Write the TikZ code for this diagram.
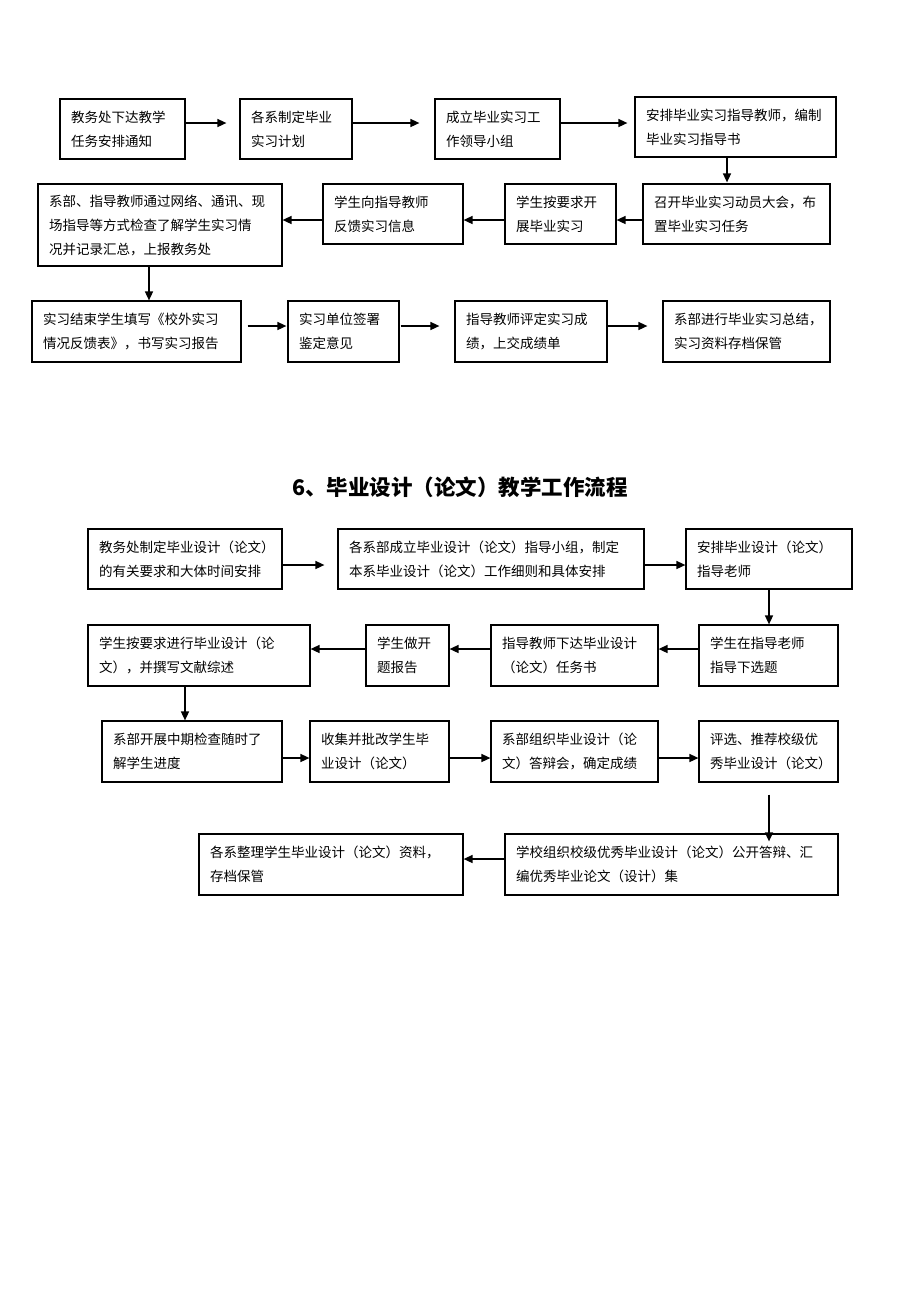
\documentclass[tikz,border=0pt]{standalone}
\usepackage{fontspec}
\setmainfont{Noto Sans CJK SC}
\usetikzlibrary{arrows.meta,calc}
\tikzset{
  box/.style={draw=black, line width=1.2pt, inner xsep=11pt, inner ysep=0pt, align=left,
    font=\fontsize{13.5}{24}\selectfont},
  arr/.style={line width=1.5pt, -{Triangle[length=9pt,width=8pt]}},
  ttl/.style={font=\fontsize{21.5}{26}\selectfont\bfseries}
}
\newcommand\bx[6]{%
  \pgfmathsetmacro\tw{#4-22}%
  \node[box, minimum width=#4pt, minimum height=#5pt, text width=\tw pt] (#1) at ({#2+#4/2},{#3+#5/2}) {#6};}
\begin{document}
\begin{tikzpicture}[x=1pt,y=-1pt]
\useasboundingbox (0,0) rectangle (920,1302);
\fill[white] (0,0) rectangle (920,1302);
% section 1
\bx{a1}{60}{99}{125}{60}{教务处下达教学\\任务安排通知}
\bx{a2}{240}{99}{112}{60}{各系制定毕业\\实习计划}
\bx{a3}{435}{99}{125}{60}{成立毕业实习工\\作领导小组}
\bx{a4}{635}{97}{201}{60}{安排毕业实习指导教师，编制\\毕业实习指导书}
\bx{b1}{38}{184}{244}{82}{系部、指导教师通过网络、通讯、现\\场指导等方式检查了解学生实习情\\况并记录汇总，上报教务处}
\bx{b2}{323}{184}{140}{60}{学生向指导教师\\反馈实习信息}
\bx{b3}{505}{184}{111}{60}{学生按要求开\\展毕业实习}
\bx{b4}{643}{184}{187}{60}{召开毕业实习动员大会，布\\置毕业实习任务}
\bx{c1}{32}{301}{209}{61}{实习结束学生填写《校外实习\\情况反馈表》，书写实习报告}
\bx{c2}{288}{301}{111}{61}{实习单位签署\\鉴定意见}
\bx{c3}{455}{301}{152}{61}{指导教师评定实习成\\绩，上交成绩单}
\bx{c4}{663}{301}{167}{61}{系部进行毕业实习总结，\\实习资料存档保管}

\draw[arr, shorten >=13pt] ([yshift=6pt]a1.east) -- ([yshift=6pt]a2.west);
\draw[arr, shorten >=15pt] ([yshift=6pt]a2.east) -- ([yshift=6pt]a3.west);
\draw[arr, shorten >=7pt] ([yshift=6pt]a3.east) -- ([yshift=6pt]a3.east -| a4.west);
\draw[arr, shorten >=1pt] ([xshift=-8.5pt]a4.south) -- ([xshift=-8.5pt]a4.south |- b4.north);
\draw[arr] ([yshift=-6pt]b4.west) -- ([yshift=-6pt]b3.east);
\draw[arr] ([yshift=-6pt]b3.west) -- ([yshift=-6pt]b2.east);
\draw[arr] ([yshift=-6pt]b2.west) -- ([yshift=-6pt]b2.west -| b1.east);
\draw[arr] ([xshift=-11pt]b1.south) -- ([xshift=-11pt]b1.south |- c1.north);
\draw[arr, shorten <=6pt, shorten >=1pt] ([yshift=5.5pt]c1.east) -- ([yshift=5.5pt]c2.west);
\draw[arr, shorten <=1pt, shorten >=15pt] ([yshift=5.5pt]c2.east) -- ([yshift=5.5pt]c3.west);
\draw[arr, shorten >=15pt] ([yshift=5.5pt]c3.east) -- ([yshift=5.5pt]c4.west);

% title
\node[ttl] (t) at (460,487) {6、毕业设计（论文）教学工作流程};

% section 2
\bx{d1}{88}{529}{194}{60}{教务处制定毕业设计（论文）\\的有关要求和大体时间安排}
\bx{d2}{338}{529}{306}{60}{各系部成立毕业设计（论文）指导小组，制定\\本系毕业设计（论文）工作细则和具体安排}
\bx{d3}{686}{529}{166}{60}{安排毕业设计（论文）\\指导老师}
\bx{e1}{88}{625}{222}{61}{学生按要求进行毕业设计（论\\文），并撰写文献综述}
\bx{e2}{366}{625}{83}{61}{学生做开\\题报告}
\bx{e3}{491}{625}{167}{61}{指导教师下达毕业设计\\（论文）任务书}
\bx{e4}{699}{625}{139}{61}{学生在指导老师\\指导下选题}
\bx{f1}{102}{721}{180}{61}{系部开展中期检查随时了\\解学生进度}
\bx{f2}{310}{721}{139}{61}{收集并批改学生毕\\业设计（论文）}
\bx{f3}{491}{721}{167}{61}{系部组织毕业设计（论\\文）答辩会，确定成绩}
\bx{f4}{699}{721}{139}{61}{评选、推荐校级优\\秀毕业设计（论文）}
\bx{g1}{199}{834}{264}{61}{各系整理学生毕业设计（论文）资料，\\存档保管}
\bx{g2}{505}{834}{333}{61}{学校组织校级优秀毕业设计（论文）公开答辩、汇\\编优秀毕业论文（设计）集}

\draw[arr, shorten >=13pt] ([yshift=-6pt]d1.east) -- ([yshift=-6pt]d2.west);
\draw[arr] ([yshift=-6pt]d2.east) -- ([yshift=-6pt]d3.west);
\draw[arr] (d3.south) -- (d3.south |- e4.north);
\draw[arr] ([yshift=6.5pt]e4.west) -- ([yshift=6.5pt]e3.east);
\draw[arr] ([yshift=6.5pt]e3.west) -- ([yshift=6.5pt]e2.east);
\draw[arr] ([yshift=6.5pt]e2.west) -- ([yshift=6.5pt]e1.east);
\draw[arr] ([xshift=-14pt]e1.south) -- ([xshift=-14pt]e1.south |- f1.north);
\draw[arr] ([yshift=-6.5pt]f1.east) -- ([yshift=-6.5pt]f2.west);
\draw[arr] ([yshift=-6.5pt]f2.east) -- ([yshift=-6.5pt]f3.west);
\draw[arr] ([yshift=-6.5pt]f3.east) -- ([yshift=-6.5pt]f4.west);
\draw[arr, shorten >=4pt] ([xshift=0.5pt,yshift=-12pt]f4.south) -- ([xshift=0.5pt,yshift=-12pt]f4.south |- g2.north);
\draw[arr] ([yshift=5.5pt]g2.west) -- ([yshift=5.5pt]g1.east);
\end{tikzpicture}
\end{document}
